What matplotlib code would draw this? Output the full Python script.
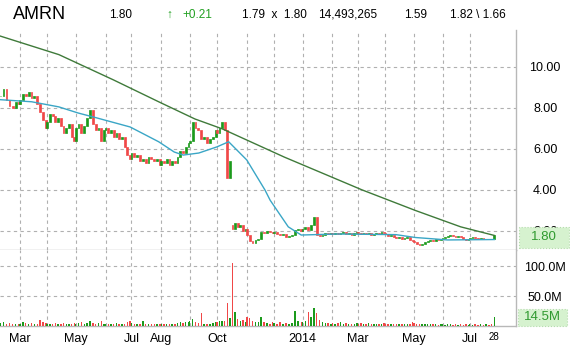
import numpy as np
import pandas as pd
import matplotlib
matplotlib.use('Agg')
import matplotlib.pyplot as plt
from matplotlib.patches import Rectangle

plt.rcParams['font.family'] = ['Liberation Sans', 'DejaVu Sans']

# closes, about one value per two trading days
close_2013_02 = [8.6, 8.9, 8.4, 8.1, 8.0, 8.3, 8.2]
close_2013_03 = [8.4, 8.7, 8.6, 8.8, 8.5, 8.6, 8.2, 7.8, 7.4, 7.0]
close_2013_04 = [7.3, 7.7, 7.6, 7.3, 7.5, 7.1, 6.8, 7.0, 7.2, 6.6, 6.4]
close_2013_05 = [7.0, 7.2, 6.8, 7.1, 7.5, 7.9, 7.2, 6.9, 7.0, 6.4, 6.9]
close_2013_06 = [7.0, 6.8, 6.9, 6.6, 6.8, 6.5, 6.6, 6.1, 5.7, 5.5]
close_2013_07 = [5.8, 5.6, 5.7, 5.4, 5.5, 5.3, 5.6, 5.5, 5.4, 5.5, 5.2]
close_2013_08 = [5.4, 5.3, 5.5, 5.2, 5.4, 5.3, 5.6, 5.9, 5.8, 6.1, 6.3]
close_2013_09 = [6.4, 7.3, 7.0, 6.9, 6.5, 6.6, 6.3, 6.5, 6.6, 6.9]
close_2013_10 = [6.8, 7.0, 7.3, 6.9, 4.6, 5.4, 2.1, 2.4, 2.2, 2.3, 2.0, 2.1]
close_2013_11 = [1.8, 1.5, 1.4, 1.55, 1.6, 1.95, 1.9, 2.0, 1.95, 1.9]
close_2013_12 = [1.95, 1.85, 1.8, 1.85, 1.7, 1.75, 1.8, 2.05, 2.1, 2.0]
close_2014_01 = [2.1, 2.2, 2.05, 2.3, 2.7, 1.8, 1.75, 1.8, 1.9, 1.85, 1.9]
close_2014_02 = [1.85, 1.9, 1.85, 1.9, 1.95, 1.85, 1.9, 1.8, 1.9, 1.95]
close_2014_03 = [1.9, 1.85, 1.9, 1.85, 1.9, 1.8, 1.85, 1.9, 1.85, 1.95, 1.9]
close_2014_04 = [1.85, 1.75, 1.8, 1.7, 1.65, 1.7, 1.6, 1.65, 1.7, 1.55, 1.5]
close_2014_05 = [1.45, 1.35, 1.3, 1.35, 1.45, 1.5, 1.55, 1.5, 1.6, 1.55, 1.6]
close_2014_06 = [1.65, 1.7, 1.75, 1.8, 1.75, 1.7, 1.75, 1.7, 1.6, 1.55, 1.6]
close_2014_07 = [1.65, 1.7, 1.65, 1.6, 1.65, 1.6, 1.62, 1.6, 1.59, 1.80]

# volume in millions, same sampling
vol_2013_02 = [5, 7, 4, 5, 4, 3, 4]
vol_2013_03 = [4, 6, 5, 4, 5, 3, 4, 10, 6, 5]
vol_2013_04 = [4, 3, 4, 5, 3, 4, 5, 4, 3, 4, 5]
vol_2013_05 = [4, 5, 6, 4, 5, 8, 5, 4, 5, 9, 4]
vol_2013_06 = [4, 3, 4, 3, 5, 4, 3, 4, 6, 8]
vol_2013_07 = [5, 4, 3, 4, 9, 4, 3, 4, 3, 4, 3]
vol_2013_08 = [4, 3, 4, 3, 4, 3, 5, 6, 5, 6, 7]
vol_2013_09 = [8, 12, 6, 5, 21, 4, 3, 4, 5, 6]
vol_2013_10 = [6, 8, 9, 8, 38, 13, 105, 24, 12, 8, 10, 7]
vol_2013_11 = [15, 14, 8, 6, 7, 15, 6, 5, 4, 6]
vol_2013_12 = [5, 4, 6, 4, 5, 4, 5, 25, 8, 6]
vol_2014_01 = [6, 8, 24, 15, 30, 21, 10, 6, 5, 5, 4]
vol_2014_02 = [5, 4, 5, 6, 4, 5, 4, 3, 4, 5]
vol_2014_03 = [4, 5, 3, 4, 5, 4, 3, 4, 3, 4, 5]
vol_2014_04 = [3, 4, 3, 4, 3, 3, 4, 3, 3, 4, 6]
vol_2014_05 = [5, 4, 3, 4, 3, 3, 4, 3, 3, 2, 3]
vol_2014_06 = [3, 2, 3, 3, 2, 3, 2, 3, 2, 3, 2]
vol_2014_07 = [3, 2, 3, 2, 3, 2, 3, 2, 3, 14.5]

month_keys = ['2013-02', '2013-03', '2013-04', '2013-05', '2013-06', '2013-07',
              '2013-08', '2013-09', '2013-10', '2013-11', '2013-12', '2014-01',
              '2014-02', '2014-03', '2014-04', '2014-05', '2014-06', '2014-07']
month_closes = [close_2013_02, close_2013_03, close_2013_04, close_2013_05,
                close_2013_06, close_2013_07, close_2013_08, close_2013_09,
                close_2013_10, close_2013_11, close_2013_12, close_2014_01,
                close_2014_02, close_2014_03, close_2014_04, close_2014_05,
                close_2014_06, close_2014_07]
month_vols = [vol_2013_02, vol_2013_03, vol_2013_04, vol_2013_05, vol_2013_06,
              vol_2013_07, vol_2013_08, vol_2013_09, vol_2013_10, vol_2013_11,
              vol_2013_12, vol_2014_01, vol_2014_02, vol_2014_03, vol_2014_04,
              vol_2014_05, vol_2014_06, vol_2014_07]

# opens that gapped away from the previous close
gap_opens = {('2013-10', 6): 2.3}

# moving averages (50 day blue, 200 day green)
ma50_dates = ['2013-02-08', '2013-03-14', '2013-04-12', '2013-05-03', '2013-05-24',
              '2013-06-28', '2013-07-30', '2013-08-15', '2013-08-26', '2013-09-11',
              '2013-10-01', '2013-10-14', '2013-11-01', '2013-11-21', '2013-11-27',
              '2013-12-17', '2013-12-31', '2014-02-06', '2014-04-11', '2014-05-02',
              '2014-06-06', '2014-07-28']
ma50_vals = [8.4, 8.3, 8.05, 7.75, 7.5, 7.07, 6.35, 5.85, 5.7, 5.8,
             6.1, 6.35, 5.46, 4.0, 3.5, 2.2, 1.8, 1.85, 1.82, 1.68,
             1.56, 1.58]
ma200_dates = ['2013-02-08', '2013-04-12', '2013-06-11', '2013-07-30', '2013-09-06',
               '2013-10-07', '2013-12-12', '2014-03-06', '2014-05-02', '2014-06-20',
               '2014-07-28']
ma200_vals = [11.5, 10.6, 9.37, 8.3, 7.46, 6.98, 5.6, 4.0, 3.0, 2.2, 1.78]

tick_months = ['2013-03', '2013-05', '2013-07', '2013-08', '2013-10', '2014-01',
               '2014-03', '2014-05', '2014-07']
tick_names = ['Mar', 'May', 'Jul', 'Aug', 'Oct', '2014', 'Mar', 'May', 'Jul']

days = pd.bdate_range('2013-02-08', '2014-07-28')
day_month = days.strftime('%Y-%m')

xs, opens, closes, vols = [], [], [], []
prev = None
for key, cl, vo in zip(month_keys, month_closes, month_vols):
    idx = np.nonzero(day_month == key)[0]
    pos = np.linspace(idx[0], idx[-1], len(cl))
    for k in range(len(cl)):
        o = prev if prev is not None else cl[k]
        if (key, k) in gap_opens:
            o = gap_opens[(key, k)]
        xs.append(pos[k])
        opens.append(o)
        closes.append(cl[k])
        vols.append(vo[k])
        prev = cl[k]
xs = np.array(xs)
opens = np.array(opens)
closes = np.array(closes)
vols = np.array(vols)

up = closes >= opens
red = '#f04848'
green = '#1c9a1c'
cols = np.where(up, green, red)

W, H = 570, 351
fig = plt.figure(figsize=(W / 100, H / 100), dpi=100)
ax = fig.add_axes([0, (H - 250) / H, 516 / W, 220 / H])
axv = fig.add_axes([0, (H - 326) / H, 516 / W, 76 / H])

grid_kw = dict(color='#b0b0b0', lw=0.8, ls=(0, (3, 3)), zorder=0)
month_starts = [np.nonzero(day_month == m)[0][0] for m in month_keys[1:]]
for a in (ax, axv):
    for ms in month_starts:
        a.axvline(ms, **grid_kw)
    a.set_xlim(-0.4, 397.7)
    for s in ('left', 'top'):
        a.spines[s].set_visible(False)
    for s in ('right', 'bottom'):
        a.spines[s].set_color('#b8b8b8')
        a.spines[s].set_linewidth(1)

for p in [2, 4, 6, 8, 10]:
    ax.axhline(p, **grid_kw)
for v in [50, 100]:
    axv.axhline(v, **grid_kw)

# candles
ax.bar(xs, closes - opens, bottom=opens, width=1.4, color=cols,
       edgecolor=cols, linewidth=0.5, zorder=3)

ma50_x = days.searchsorted(pd.to_datetime(ma50_dates))
ma200_x = days.searchsorted(pd.to_datetime(ma200_dates))
ax.plot(ma50_x, ma50_vals, color='#3aa6c6', lw=1.0, zorder=4)
ax.plot(ma200_x, ma200_vals, color='#3f7a3a', lw=1.0, zorder=4)

ax.set_ylim(1.07, 11.8)
ax.set_yticks([2, 4, 6, 8, 10])
ax.set_yticklabels(['2.00', '4.00', '6.00', '8.00', '10.00'])
ax.set_xticks([])

axv.bar(xs, vols, width=1.1, color=cols, zorder=3)
axv.set_ylim(0, 126.7)
axv.set_yticks([50, 100])
axv.set_yticklabels(['50.0M', '100.0M'])

for a in (ax, axv):
    a.tick_params(axis='y', left=False, labelleft=False, right=True,
                  labelright=True, length=0, pad=21, labelsize=9)
    for t in a.get_yticklabels():
        t.set_ha('center')

tick_x = [np.nonzero(day_month == m)[0][0] for m in tick_months] + [len(days) - 1]
axv.set_xticks(tick_x)
axv.set_xticklabels(tick_names + ['28'])
axv.tick_params(axis='x', length=0, pad=5, labelsize=9)
axv.get_xticklabels()[-1].set_fontsize(7)
axv.get_xticklabels()[-1].set_y(0.01)


def fx(px):
    return px / W


def fy(py):
    return 1 - py / H


# last value boxes
for (x0, y0, x1, y1, label) in [(519, 227, 569, 248, '1.80'),
                                 (518, 309, 567, 326, '14.5M')]:
    fig.patches.append(Rectangle((fx(x0), fy(y1)), fx(x1) - fx(x0), fy(y0) - fy(y1),
                                 transform=fig.transFigure, facecolor='#d6f2cf',
                                 edgecolor='#b4dcac', lw=0.8, ls=':', zorder=5))
    fig.text(fx((x0 + x1) / 2), fy((y0 + y1) / 2), label, color='#2f9a2f',
             fontsize=9.5, ha='center', va='center', zorder=6)

# quote header
fig.text(fx(13), fy(14.5), 'AMRN', fontsize=13, va='center')
hdr = [(109, '1.80', 'black'), (166, '\u2191', '#22a022'), (182, '+0.21', '#22a022'),
       (242, '1.79  x  1.80', 'black'), (318, '14,493,265', 'black'),
       (404, '1.59', 'black'), (450, '1.82 \\ 1.66', 'black')]
for px, txt, c in hdr:
    fig.text(fx(px), fy(14.5), txt, fontsize=8.5, color=c, va='center')

fig.savefig('out.png', dpi=100)
